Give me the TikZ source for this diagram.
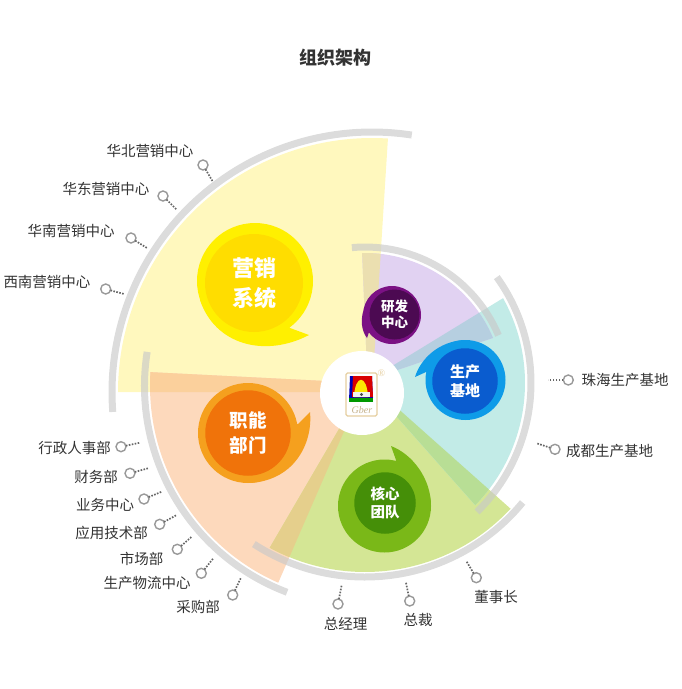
\documentclass[tikz,border=0pt]{standalone}
\usepackage{fontspec}
\setmainfont{Noto Sans CJK SC}
\newfontfamily\logofont{Liberation Serif}
\usetikzlibrary{calc}
\definecolor{bandgray}{HTML}{C9C9C9}
\definecolor{txtdark}{HTML}{333333}
\definecolor{secyellow}{HTML}{FFF8BE}
\definecolor{secpeach}{HTML}{FDD9BC}
\definecolor{secgreen}{HTML}{D4E695}
\definecolor{secteal}{HTML}{C2EBE7}
\definecolor{secpurple}{HTML}{E1D2F2}
\definecolor{ovyp}{HTML}{FBD09C}
\definecolor{ovypu}{HTML}{EBDFB0}
\definecolor{ovpg}{HTML}{E5CF8C}
\definecolor{ovgt}{HTML}{B8DE95}
\definecolor{ovput}{HTML}{B6CFE0}
\definecolor{logotan}{HTML}{E6CFA0}
\definecolor{dotgray}{HTML}{666666}
\definecolor{tickgray}{HTML}{999999}
\definecolor{yxouter}{HTML}{FFF000}
\definecolor{yxinner}{HTML}{FFDD00}
\definecolor{znouter}{HTML}{F5A01E}
\definecolor{zninner}{HTML}{F0730A}
\definecolor{hxouter}{HTML}{7AB818}
\definecolor{hxinner}{HTML}{458F08}
\definecolor{scouter}{HTML}{0E9BE8}
\definecolor{scinner}{HTML}{0A5CCF}
\definecolor{yfouter}{HTML}{7B1184}
\definecolor{yfinner}{HTML}{4C0A52}

\newcommand{\secyellowpath}{(372,392) -- ($(372,392)+(180:254)$) arc[start angle=180,end angle=273.6,radius=254] -- cycle}
\newcommand{\secpeachpath}{(365,383) -- ($(365,386)+(113.8:215)$) arc[start angle=113.8,end angle=183.7,radius=215] -- cycle}
\newcommand{\secgreenpath}{(367,381) -- ($(365,373)+(43:199)$) arc[start angle=43,end angle=118.6,radius=199] -- cycle}
\newcommand{\sectealpath}{(366,382) -- ($(350,383)+(-29:175)$) arc[start angle=-29,end angle=44.3,radius=175] -- cycle}
\newcommand{\secpurplepath}{(367.5,380) -- ($(365,392)+(268.8:139)$) arc[start angle=268.8,end angle=337.1,radius=139] -- cycle}

\begin{document}
\begin{tikzpicture}[x=1pt,y=1pt,yscale=-1,
  blob/.style={circle, fill=#1, inner sep=0pt, outer sep=0pt, text=white, align=center},
  band/.style={line width=7pt, bandgray, draw opacity=.65},
  lab/.style={font=\fontsize{14.5}{16}\selectfont, text=txtdark, inner sep=0pt},
  tick/.style={circle, draw=tickgray, line width=1.4pt, fill=white, minimum size=10pt, inner sep=0pt, outer sep=0pt},
  dots/.style={line width=1.7pt, dotgray, dash pattern=on 1.6pt off 1.4pt}
]
  \useasboundingbox (0,0) rectangle (682,689);

  % sectors
  \fill[secyellow] \secyellowpath;
  \fill[secpeach] \secpeachpath;
  \fill[secgreen] \secgreenpath;
  \fill[secteal] \sectealpath;
  \fill[secpurple] \secpurplepath;

  % overlaps
  \begin{scope}
    \clip \secyellowpath;
    \fill[ovyp] \secpeachpath;
    \fill[ovypu] \secpurplepath;
  \end{scope}
  \begin{scope}
    \clip \secgreenpath;
    \fill[ovpg] \secpeachpath;
    \fill[ovgt] \sectealpath;
  \end{scope}
  \begin{scope}
    \clip \sectealpath;
    \fill[ovput] \secpurplepath;
  \end{scope}

  % rims
  \draw[band] ($(372,392)+(175.6:260)$) arc[start angle=175.6,end angle=278.8,radius=260];
  \draw[band] ($(365,386)+(110.7:220.5)$) arc[start angle=110.7,end angle=188.9,radius=220.5];
  \draw[band] ($(365,373)+(39.4:204)$) arc[start angle=39.4,end angle=123,radius=204];
  \draw[band] ($(350,383)+(-35.8:181)$) arc[start angle=-35.8,end angle=45.4,radius=181];
  \draw[band] ($(365,392)+(264.8:145)$) arc[start angle=264.8,end angle=337,radius=145];

  % logo
  \node[circle, fill=white, minimum size=84pt, inner sep=0pt] (logo) at (362,393) {};
  \draw[logotan, line width=1.4pt, rounded corners=1.5pt] (346,373) rectangle (377,416);
  \fill[blue!70!black] (350,376) -- (372,376) -- (373,401) -- (349,401) -- cycle;
  \fill[red!85!black] (353,376) -- (372,376) -- (373,397) -- (352,397) -- cycle;
  \fill[green!60!black] (349,398) rectangle (373,402);
  \fill[yellow!90!orange] (354,397) .. controls (355,374) and (367,374) .. (368,397) -- cycle;
  \fill[white!90!gray] (353,392) rectangle (370,397);
  \fill[black!70] (361.5,394.5) circle (1.6pt);
  \node[font=\logofont\itshape\fontsize{10}{10}\selectfont, text=logotan!85!black, inner sep=0pt] (gber) at (362,410) {Gber};
  \node[font=\logofont\fontsize{10}{10}\selectfont, text=logotan, inner sep=0pt] (regmark) at (381.5,373.5) {®};

  % bubbles
  \fill[yxouter] (200,300) .. controls (215,345) and (265,358) .. (309,335) -- (290,328) -- (255,281) -- cycle;
  \node[blob=yxouter, minimum size=116pt] (yxo) at (255,281) {};
  \node[blob=yxinner, minimum size=98pt, font=\bfseries\fontsize{22}{30}\selectfont] (yx) at (254,283) {营销\\系统};

  \fill[znouter] (310,412) .. controls (313,440) and (297,480) .. (250,483) -- (248,433) -- (298,424) -- cycle;
  \node[blob=znouter, minimum size=100pt] (zno) at (248,433) {};
  \node[blob=zninner, minimum size=85.5pt, font=\bfseries\fontsize{18.5}{24.5}\selectfont] (zn) at (248,433) {职能\\部门};

  \fill[hxouter] (391,446) .. controls (412,454) and (431,478) .. (431,506) -- (385,506) -- (396,460) -- cycle;
  \node[blob=hxouter, minimum size=93pt] (hxo) at (384.5,506) {};
  \node[blob=hxinner, minimum size=61.5pt, font=\bfseries\fontsize{14.5}{18}\selectfont] (hx) at (385,503) {核心\\团队};

  \fill[scouter] (415,377) .. controls (420,360) and (438,341) .. (465,340) -- (465,380) -- (426,372) -- cycle;
  \node[blob=scouter, minimum size=80pt] (sco) at (465.5,380) {};
  \node[blob=scinner, minimum size=65.5pt, font=\bfseries\fontsize{15}{18.5}\selectfont] (sc) at (465,381) {生产\\基地};

  \fill[yfouter] (367,338) .. controls (361,330) and (361,320) .. (363,312) -- (392,315) -- (369,332) -- cycle;
  \node[blob=yfouter, minimum size=58pt] (yfo) at (392,315) {};
  \node[blob=yfinner, minimum size=50pt, font=\bfseries\fontsize{13.5}{16.5}\selectfont] (yf) at (394.5,314.5) {研发\\中心};

  % title
  \node[font=\bfseries\fontsize{18}{20}\selectfont, text=txtdark, inner sep=0pt] (title) at (335.5,58) {组织架构};

  % yingxiao
  \node[lab] (hb) at (150,151) {华北营销中心};
  \node[tick] (hbt) at (203,165) {};
  \coordinate (hbe) at (213,182);
  \draw[dots] (hbt) -- (hbe);
  \node[lab] (hd) at (106,189) {华东营销中心};
  \node[tick] (hdt) at (163,196) {};
  \coordinate (hde) at (177,210);
  \draw[dots] (hdt) -- (hde);
  \node[lab] (hn) at (71,231) {华南营销中心};
  \node[tick] (hnt) at (131,238) {};
  \coordinate (hne) at (147,248);
  \draw[dots] (hnt) -- (hne);
  \node[lab] (xn) at (47,282) {西南营销中心};
  \node[tick] (xnt) at (105.7,289) {};
  \coordinate (xne) at (124,294);
  \draw[dots] (xnt) -- (xne);

  % zhineng
  \node[lab] (xz) at (74.5,448) {行政人事部};
  \node[tick] (xzt) at (121,446.7) {};
  \coordinate (xze) at (140,442.7);
  \draw[dots] (xzt) -- (xze);
  \node[lab] (cw) at (96,476.7) {财务部};
  \node[tick] (cwt) at (130,473.3) {};
  \coordinate (cwe) at (148,468.3);
  \draw[dots] (cwt) -- (cwe);
  \node[lab] (yw) at (105,505) {业务中心};
  \node[tick] (ywt) at (144,499) {};
  \coordinate (ywe) at (161.7,491.7);
  \draw[dots] (ywt) -- (ywe);
  \node[lab] (yy) at (111.7,533.3) {应用技术部};
  \node[tick] (yyt) at (159.7,524.3) {};
  \coordinate (yye) at (176.7,515);
  \draw[dots] (yyt) -- (yye);
  \node[lab] (sh) at (141.7,559) {市场部};
  \node[tick] (sht) at (177.3,549.3) {};
  \coordinate (she) at (191.7,536.7);
  \draw[dots] (sht) -- (she);
  \node[lab] (wl) at (147,583) {生产物流中心};
  \node[tick] (wlt) at (201.3,573.3) {};
  \coordinate (wle) at (213.3,558.3);
  \draw[dots] (wlt) -- (wle);
  \node[lab] (cg) at (198,606.7) {采购部};
  \node[tick] (cgt) at (232.7,595) {};
  \coordinate (cge) at (240.7,578.3);
  \draw[dots] (cgt) -- (cge);

  % hexin
  \node[lab] (zj) at (345.5,623.5) {总经理};
  \node[tick] (zjt) at (338,604) {};
  \coordinate (zje) at (341.7,585);
  \draw[dots] (zjt) -- (zje);
  \node[lab] (zc) at (418,620) {总裁};
  \node[tick] (zct) at (409.7,601) {};
  \coordinate (zce) at (406,582.7);
  \draw[dots] (zct) -- (zce);
  \node[lab] (ds) at (496,596.7) {董事长};
  \node[tick] (dst) at (476.3,577.7) {};
  \coordinate (dse) at (466.7,561.7);
  \draw[dots] (dst) -- (dse);

  % shengchan
  \node[lab] (zh) at (625,380) {珠海生产基地};
  \node[tick] (zht) at (568.3,380) {};
  \coordinate (zhe) at (548.3,380);
  \draw[dots] (zht) -- (zhe);
  \node[lab] (cd) at (609.7,450.7) {成都生产基地};
  \node[tick] (cdt) at (555,449.3) {};
  \coordinate (cde) at (536.7,443.3);
  \draw[dots] (cdt) -- (cde);
\end{tikzpicture}
\end{document}
